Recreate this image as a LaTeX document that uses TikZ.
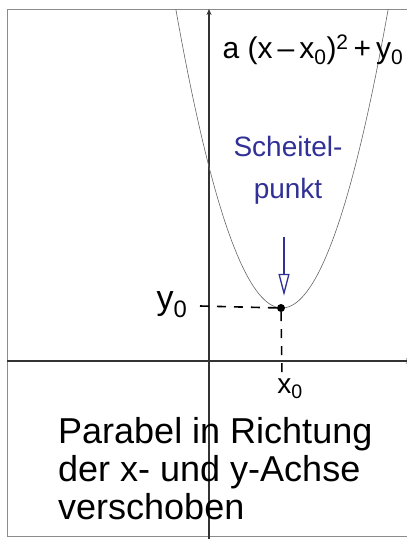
\documentclass[tikz,border=0pt]{standalone}
\usepackage{fontspec}
\setmainfont{Liberation Sans}
\usepackage{xcolor}
\usetikzlibrary{arrows.meta}
\definecolor{inkblue}{RGB}{48,48,150}
\tikzset{
  frame/.style={draw=black!45,line width=1pt},
  axis/.style={draw=black!80,line width=1.6pt,-{Stealth[length=6pt,width=5pt]}},
  curve/.style={draw=black!60,line width=0.6pt},
  guide/.style={line width=1.6pt,dash pattern=on 9pt off 8pt},
  lbl/.style={font=\fontsize{30}{38}\selectfont,inner sep=1pt},
  note/.style={lbl,font=\fontsize{28}{42}\selectfont,text=inkblue,align=center},
  vtx/.style={circle,fill=black,minimum size=8pt,inner sep=0pt},
  tip/.style={draw=inkblue,line width=1.3pt,-{Triangle[open,length=22pt,width=11pt]}}
}

\begin{document}
\begin{tikzpicture}[x=1pt,y=-1pt]
  \useasboundingbox (0,0) rectangle (407,539);
  \draw[frame] (7,9) rectangle (420,536);

  % Achsen
  \coordinate (xl) at (7,361);
  \coordinate (xr) at (412,361);
  \coordinate (yb) at (209,545);
  \coordinate (yt) at (209,9);
  \draw[axis] (xl) -- (xr);
  \draw[axis] (yb) -- (yt);

  % Parabel
  \begin{scope}
    \clip (7,9) rectangle (407,536);
    \draw[curve] plot[domain=170:396,samples=90] (\x,{308-0.0265*(\x-282)^2});
  \end{scope}

  \node[vtx] (vertex) at (281,308) {};
  \coordinate (ytick) at (200,306);
  \coordinate (xtick) at (282,376);
  \draw[guide] (ytick) -- (vertex);
  \draw[guide] (vertex) -- (xtick);

  \node[lbl,font=\fontsize{34}{38}\selectfont] (ylab) at (172,305) {y\textsubscript{0}};
  \node[lbl,font=\fontsize{28}{30}\selectfont] (xlab) at (290,389) {x\textsubscript{0}};
  \node[lbl] (formula) at (313,50)
    {a (x\,–\,x\textsubscript{0})\textsuperscript{2}\,+\,y\textsubscript{0}};

  \node[note] (scheitel) at (288,170) {Scheitel-\\punkt};
  \coordinate (pointer) at (284,237);
  \draw[tip,shorten >=8pt] (pointer) -- (pointer |- vertex.north);

  \node[lbl,font=\fontsize{36}{38}\selectfont,align=left,anchor=base west] (caption) at (57,519)
    {Parabel in Richtung\\der x- und y-Achse\\verschoben};
\end{tikzpicture}
\end{document}
